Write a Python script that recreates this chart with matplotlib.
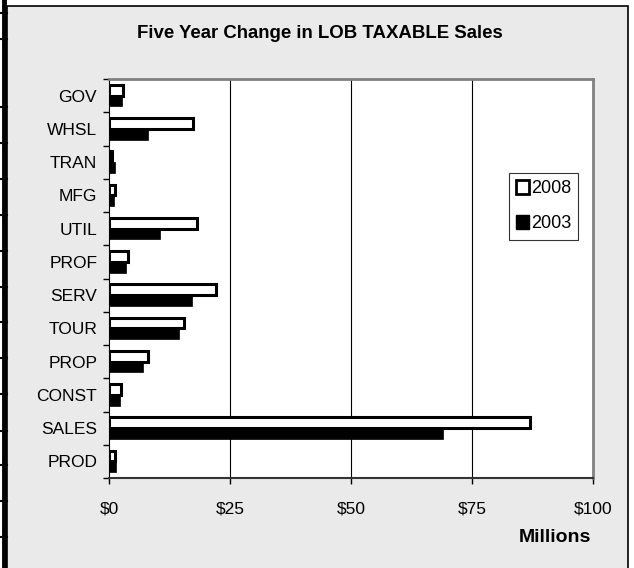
import numpy as np
import matplotlib
matplotlib.use("Agg")
import matplotlib.pyplot as plt
from matplotlib.patches import Rectangle, Patch
from matplotlib.lines import Line2D

# categories listed top to bottom as in the chart
categories = ["GOV", "WHSL", "TRAN", "MFG", "UTIL", "PROF",
              "SERV", "TOUR", "PROP", "CONST", "SALES", "PROD"]
sales_2008 = [2.8, 17.3, 0.7, 1.2, 18.1, 4.0, 22.2, 15.4, 8.0, 2.5, 87.0, 1.2]
sales_2003 = [2.6, 8.0, 1.2, 1.0, 10.6, 3.6, 17.2, 14.5, 7.1, 2.3, 69.0, 1.4]
xticks = [0, 25, 50, 75, 100]
xtick_labels = ["$0", "$25", "$50", "$75", "$100"]


def main():
    plt.rcParams["font.family"] = ["Liberation Sans", "DejaVu Sans"]
    W, H = 634, 568
    fig = plt.figure(figsize=(W / 100, H / 100), dpi=100)
    fig.patch.set_facecolor("white")

    # gray chart area with border
    fig.add_artist(Rectangle((7 / W, -0.02), (628 - 7) / W, 1 - 6 / H + 0.02,
                             transform=fig.transFigure, facecolor="#eaeaea",
                             edgecolor="black", lw=1.2, zorder=0))
    # dark page edge with tick marks on the far left
    fig.add_artist(Line2D([4 / W, 4 / W], [0, 1], transform=fig.transFigure,
                          color="black", lw=3.5))
    for yp in [13, 39, 107, 143, 179, 215, 251, 287, 322, 358, 394, 431, 465, 501, 537]:
        fig.add_artist(Line2D([0, 7 / W], [1 - yp / H, 1 - yp / H],
                              transform=fig.transFigure, color="black", lw=1.5))

    ax = fig.add_axes([109 / W, 1 - 478 / H, (593 - 109) / W, (478 - 79) / H])
    ax.set_facecolor("white")

    n = len(categories)
    y = np.arange(n)[::-1]
    h = 0.32
    ax.barh(y + h / 2, sales_2008, height=h, color="white", edgecolor="black",
            lw=2.2, zorder=3, label="2008")
    ax.barh(y - h / 2, sales_2003, height=h, color="black", edgecolor="black",
            lw=0.5, zorder=3, label="2003")

    ax.set_xlim(0, 100)
    ax.set_ylim(-0.5, n - 0.5)
    ax.set_xticks(xticks)
    ax.set_xticklabels(xtick_labels, fontsize=12.5)
    for xv in xticks[1:-1]:
        ax.axvline(xv, color="black", lw=0.8, zorder=1)

    ax.set_yticks(y)
    ax.set_yticklabels(categories, fontsize=12.5)
    ax.set_yticks(np.arange(n + 1) - 0.5, minor=True)
    ax.tick_params(axis="y", which="major", length=0, pad=8.5)
    ax.tick_params(axis="y", which="minor", length=4, width=1, direction="out")
    ax.tick_params(axis="x", length=4, width=1, direction="out", pad=13)

    for side in ["top", "right"]:
        ax.spines[side].set_color("#808080")
        ax.spines[side].set_linewidth(2)
    ax.spines["left"].set_color("black")
    ax.spines["bottom"].set_color("#333333")
    ax.spines["bottom"].set_linewidth(1.5)

    handles = [Patch(facecolor="white", edgecolor="black", lw=2),
               Patch(facecolor="black", edgecolor="black")]
    leg = fig.legend(handles, ["2008", "2003"], loc="upper left",
                     bbox_to_anchor=(509 / W, 1 - 173 / H), fontsize=13,
                     frameon=True, fancybox=False, handlelength=0.7,
                     handleheight=0.75, handletextpad=0.1, borderpad=0.4,
                     labelspacing=1.0, borderaxespad=0)
    leg.get_frame().set_edgecolor("black")
    leg.get_frame().set_linewidth(0.8)

    fig.text(320 / W, 1 - 33 / H, "Five Year Change in LOB TAXABLE Sales",
             ha="center", va="center", fontsize=13.4, fontweight="bold")
    fig.text(555 / W, 1 - 537 / H, "Millions", ha="center", va="center",
             fontsize=14, fontweight="bold")

    fig.savefig("out.png", dpi=100)
    plt.close(fig)


if __name__ == "__main__":
    main()
